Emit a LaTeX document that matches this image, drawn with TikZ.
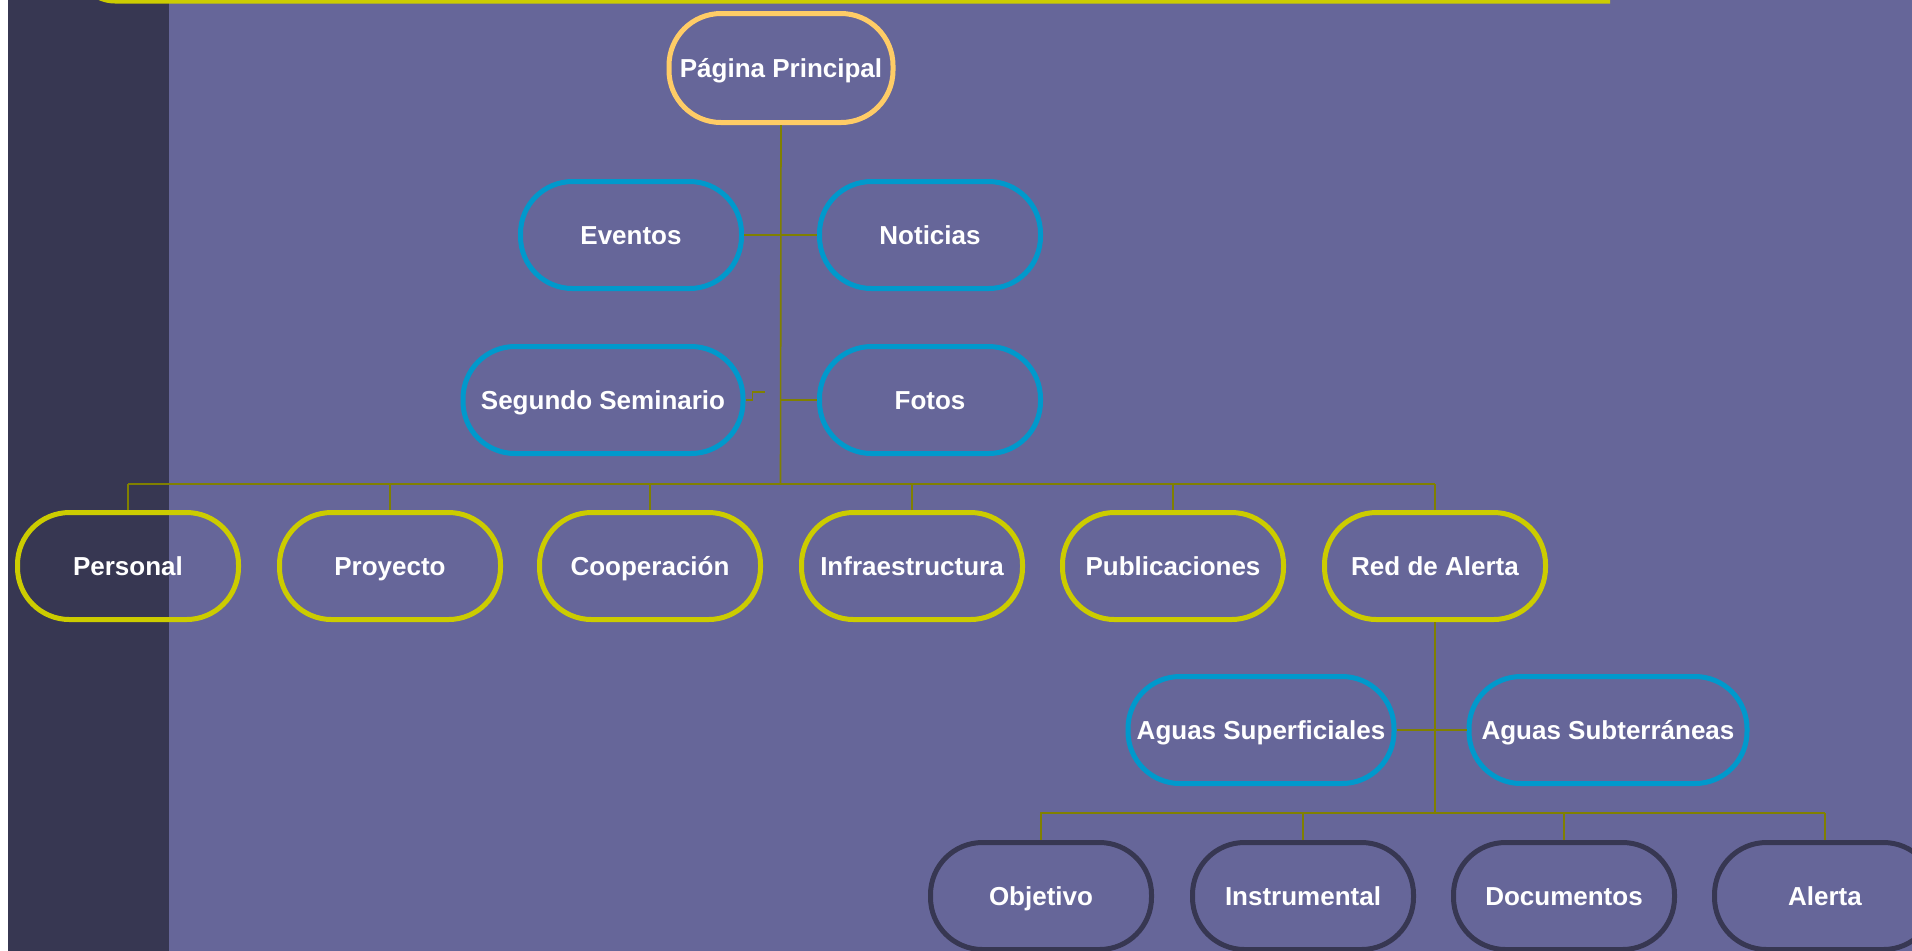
\documentclass[tikz,border=0pt]{standalone}
\usepackage{fontspec}
\setmainfont{Liberation Sans}
\definecolor{bgpurple}{HTML}{666699}
\definecolor{darkstrip}{HTML}{373752}
\definecolor{ylw}{HTML}{CCCC00}
\definecolor{blu}{HTML}{0099CC}
\definecolor{org}{HTML}{FFCC66}
\definecolor{olive}{HTML}{808000}
\begin{document}
\begin{tikzpicture}[x=0.5pt,y=-0.5pt,
  box/.style={draw, line width=2.5pt, rounded corners=26pt, minimum height=53.5pt,
    minimum width=110.5pt, text=white, inner sep=0pt, align=center,
    text height=9.6pt, text depth=0pt,
    font=\bfseries\fontsize{13}{15}\selectfont},
  topbox/.style={box, draw=org, minimum width=112pt, minimum height=54.5pt},
  bluebox/.style={box, draw=blu},
  ylwbox/.style={box, draw=ylw},
  darkbox/.style={box, draw=darkstrip},
  conn/.style={draw=olive, line width=0.8pt}]
\useasboundingbox (0,0) rectangle (1912,950);
\clip (0,0) rectangle (1912,950);
% background
\fill[white] (-20,-20) rectangle (1932,970);
\fill[bgpurple] (169,-20) rectangle (1932,970);
\fill[darkstrip] (8,-20) rectangle (169,970);
\fill[ylw] (1610,-20) -- (1610,3.5) [rounded corners=20pt] -- (75,3.5) [sharp corners] -- (75,-20) -- cycle;

% nodes
\node[topbox] (pp) at (781,68) {Página Principal};
\node[bluebox] (ev) at (631,235) {Eventos};
\node[bluebox] (no) at (930,235) {Noticias};
\node[bluebox, minimum width=140pt] (ss) at (603,400) {Segundo Seminario};
\node[bluebox] (fo) at (930,400) {Fotos};

\node[ylwbox] (pe) at (128,566) {Personal};
\node[ylwbox] (pr) at (390,566) {Proyecto};
\node[ylwbox] (co) at (650,566) {Cooperación};
\node[ylwbox] (in) at (912,566) {Infraestructura};
\node[ylwbox] (pu) at (1173,566) {Publicaciones};
\node[ylwbox] (ra) at (1435,566) {Red de Alerta};

\node[bluebox, minimum width=133pt] (as) at (1261,730) {Aguas Superficiales};
\node[bluebox, minimum width=139pt] (asub) at (1608,730) {Aguas Subterráneas};

\node[darkbox] (ob) at (1041,896) {Objetivo};
\node[darkbox] (is) at (1303,896) {Instrumental};
\node[darkbox] (dc) at (1564,896) {Documentos};
\node[darkbox] (al) at (1825,896) {Alerta};

% connectors
\coordinate (b0) at (780.5,484);
\coordinate (busL) at (128,484);
\coordinate (busR) at (1435,484);
\coordinate (bus2L) at (1040,813);
\coordinate (bus2R) at (1825,813);
\coordinate (b2) at (1435,813);

\path[conn] (pp.south) -- (b0);
\path[conn] (ev.east) -- (ev.east -| b0);
\path[conn] (no.west) -- (no.west -| b0);
\path[conn] (fo.west) -- (fo.west -| b0);
\path[conn] (ss.east) -- ++(7,0) -- ++(0,-8) -- ++(12,0);
\path[conn] (busL) -- (busR);
\foreach \n in {pe,pr,co,in,pu,ra}{
  \path[conn] (\n.north) -- (\n.north |- busL);
}
\path[conn] (ra.south) -- (b2);
\path[conn] (as.east) -- (as.east -| b2);
\path[conn] (asub.west) -- (asub.west -| b2);
\path[conn] (bus2L) -- (bus2R);
\foreach \n in {ob,is,dc,al}{
  \path[conn] (\n.north) -- (\n.north |- bus2L);
}
\end{tikzpicture}
\end{document}
